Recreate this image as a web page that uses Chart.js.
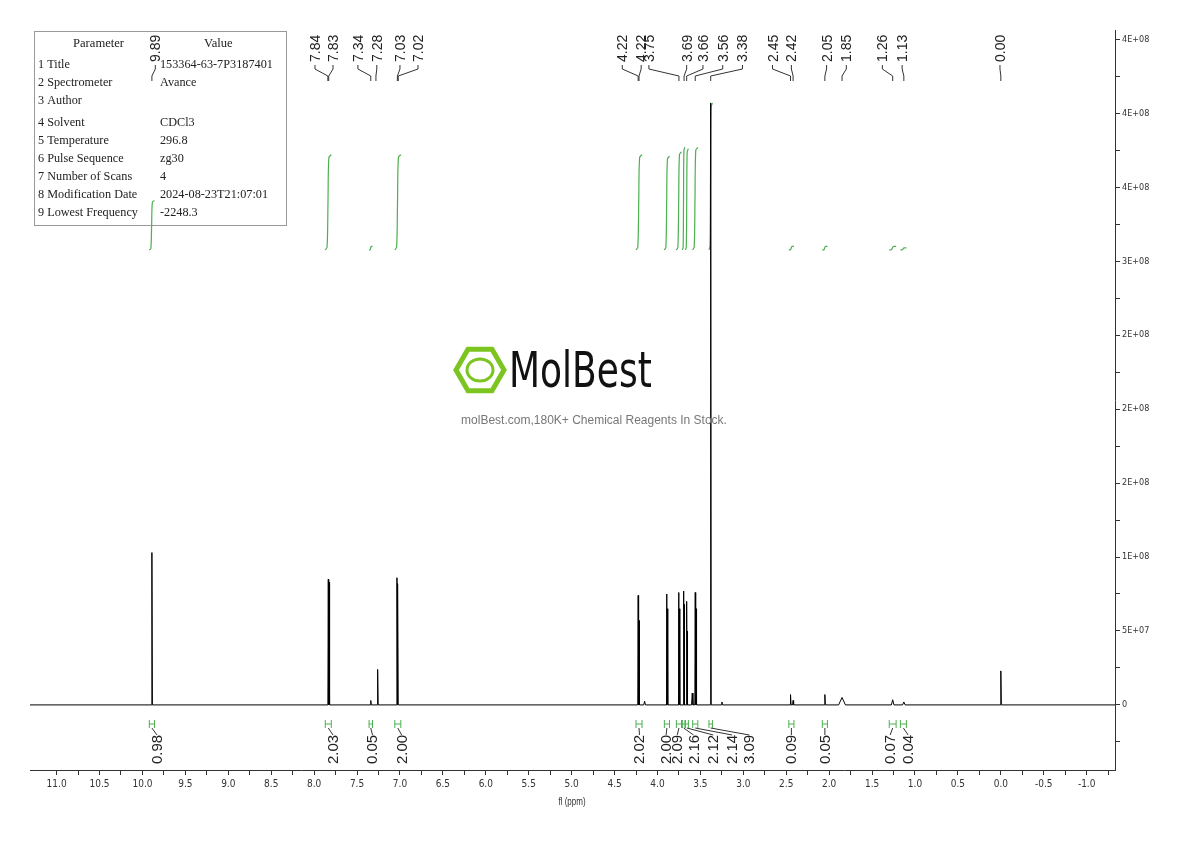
<!DOCTYPE html>
<html><head><meta charset="utf-8">
<script src="https://cdn.jsdelivr.net/npm/chart.js@4"></script>
<style>
html,body{margin:0;padding:0;background:#fff;}
</style></head><body>
<canvas id="c" width="1190" height="841"></canvas>
<script>
// ---- data ----
const peakPpm =    [9.89, 7.835, 7.825, 7.34, 7.26, 7.035, 7.025, 4.225, 4.215, 4.15, 3.895, 3.885, 3.755, 3.745, 3.695, 3.685, 3.66, 3.65, 3.595, 3.56, 3.55, 3.38, 3.25, 2.45, 2.42, 2.05, 1.85, 1.26, 1.13, 0.00];
const peakHeight = [1.03e8, 8.5e7, 8.3e7, 3e6, 2.4e7, 8.6e7, 8.2e7, 7.4e7, 5.7e7, 2.5e6, 7.5e7, 6.5e7, 7.6e7, 6.5e7, 7.7e7, 6.8e7, 7.0e7, 5.0e7, 8e6, 7.6e7, 6.5e7, 4.07e8, 2e6, 7e6, 3e6, 7e6, 5e6, 3.5e6, 2e6, 2.3e7];
const peakWidth =  [0.006,0.005,0.005,0.006,0.006,0.005,0.005,0.005,0.005,0.01,0.005,0.005,0.005,0.005,0.005,0.005,0.005,0.005,0.008,0.005,0.005,0.006,0.01,0.006,0.006,0.006,0.04,0.015,0.015,0.006];

const intLeft   = [9.92, 7.87, 7.36, 7.06, 4.25, 3.92, 3.78, 3.71, 3.675, 3.59, 3.40, 2.47, 2.08, 1.30, 1.17];
const intRight  = [9.86, 7.80, 7.32, 6.99, 4.18, 3.86, 3.72, 3.68, 3.64, 3.53, 3.36, 2.41, 2.02, 1.22, 1.10];
const intBase   = [3.076e8,3.076e8,3.076e8,3.076e8,3.076e8,3.076e8,3.076e8,3.076e8,3.076e8,3.076e8,3.076e8,3.076e8,3.076e8,3.076e8,3.076e8];
const intTop    = [3.41e8, 3.72e8, 3.10e8, 3.72e8, 3.72e8, 3.71e8, 3.74e8, 3.77e8, 3.76e8, 3.77e8, 4.07e8, 3.10e8, 3.10e8, 3.10e8, 3.09e8];
const intValue  = ['0.98','2.03','0.05','2.00','2.02','2.00','2.09','2.16','2.12','2.14','3.09','0.09','0.05','0.07','0.04'];
const intLabelPpm = [9.83, 7.78, 7.32, 6.98, 4.21, 3.90, 3.77, 3.58, 3.35, 3.13, 2.93, 2.44, 2.05, 1.29, 1.08];

const peakLabels   = ['9.89','7.84','7.83','7.34','7.28','7.03','7.02','4.22','4.22','3.75','3.69','3.66','3.56','3.38','2.45','2.42','2.05','1.85','1.26','1.13','0.00'];
const peakLabelPpm = [9.85, 7.99, 7.78, 7.49, 7.27, 7.00, 6.79, 4.41, 4.19, 4.10, 3.66, 3.47, 3.24, 3.01, 2.66, 2.44, 2.03, 1.80, 1.38, 1.15, 0.01];
const peakLabelTarget = [9.89, 7.84, 7.83, 7.34, 7.28, 7.03, 7.02, 4.225, 4.215, 3.75, 3.69, 3.66, 3.56, 3.38, 2.45, 2.42, 2.05, 1.85, 1.26, 1.13, 0.00];

const xTicks = [11.0,10.75,10.5,10.25,10.0,9.75,9.5,9.25,9.0,8.75,8.5,8.25,8.0,7.75,7.5,7.25,7.0,6.75,6.5,6.25,6.0,5.75,5.5,5.25,5.0,4.75,4.5,4.25,4.0,3.75,3.5,3.25,3.0,2.75,2.5,2.25,2.0,1.75,1.5,1.25,1.0,0.75,0.5,0.25,0.0,-0.25,-0.5,-0.75,-1.0,-1.25];
const yTicks = [-2.5e7,0,2.5e7,5e7,7.5e7,1e8,1.25e8,1.5e8,1.75e8,2e8,2.25e8,2.5e8,2.75e8,3e8,3.25e8,3.5e8,3.75e8,4e8,4.25e8,4.5e8];
const yTickLabels = {0:'0',5e7:'5E+07',1e8:'1E+08',1.5e8:'2E+08',2e8:'2E+08',2.5e8:'2E+08',3e8:'3E+08',3.5e8:'4E+08',4e8:'4E+08',4.5e8:'4E+08'};

const params = [['1 Title','153364-63-7P3187401'],['2 Spectrometer','Avance'],['3 Author',''],['4 Solvent','CDCl3'],['5 Temperature','296.8'],['6 Pulse Sequence','zg30'],['7 Number of Scans','4'],['8 Modification Date','2024-08-23T21:07:01'],['9 Lowest Frequency','-2248.3']];

// ---- build spectrum ----
const XMAX=11.31, XMIN=-1.33, YMIN=-4.4e7, YMAX=4.563e8;
const idx=peakPpm.map((p,i)=>i).sort((a,b)=>peakPpm[b]-peakPpm[a]);
const spec=[{x:XMAX,y:0}];
idx.forEach(i=>{spec.push({x:peakPpm[i]+peakWidth[i],y:0},{x:peakPpm[i],y:peakHeight[i]},{x:peakPpm[i]-peakWidth[i],y:0});});
spec.push({x:XMIN,y:0});
const datasets=[{data:spec,borderColor:'#000',borderWidth:1,pointRadius:0,tension:0}];
intLeft.forEach((l,i)=>{
  const r=intRight[i], b=intBase[i], t=intTop[i], d=(l-r);
  datasets.push({data:[{x:l,y:b},{x:l-d*0.3,y:b+(t-b)*0.03},{x:l-d*0.45,y:b+(t-b)*0.5},{x:l-d*0.6,y:t-(t-b)*0.03},{x:r,y:t}],
    borderColor:'#4caf50',borderWidth:1.2,pointRadius:0,tension:0.3});
});

function narrowText(c,t,x,y,sx){c.save();c.translate(x,y);c.scale(sx,1);c.fillText(t,0,0);c.restore();}

const under={id:'under',beforeDatasetsDraw(ch){
  const c=ch.ctx;c.save();
  c.fillStyle='#fff';c.fillRect(34,31,252,194);c.strokeStyle='#999';c.lineWidth=1;c.strokeRect(34.5,31.5,252,194);
  c.fillStyle='#222';c.font='12px "Liberation Serif","DejaVu Serif",serif';c.textBaseline='middle';c.textAlign='left';
  narrowText(c,'Parameter',73,44,1.05);narrowText(c,'Value',204,44,1.05);
  const rowsY=[65,83,101,123,141,159,177,195,213];
  params.forEach((p,i)=>{narrowText(c,p[0],38,rowsY[i],1.02);narrowText(c,p[1],160,rowsY[i],1.02);});
  c.restore();
}};

const overlay={id:'overlay',afterDatasetsDraw(ch){
  const c=ch.ctx,xs=ch.scales.x;
  c.save();
  c.font='14px "Liberation Sans",sans-serif';c.fillStyle='#222';c.strokeStyle='#333';c.lineWidth=1;
  peakLabels.forEach((t,i)=>{
    const lx=xs.getPixelForValue(peakLabelPpm[i]),px=xs.getPixelForValue(peakLabelTarget[i]);
    c.save();c.translate(lx+5,62);c.rotate(-Math.PI/2);c.textAlign='left';c.fillText(t,0,0);c.restore();
    c.beginPath();c.moveTo(lx,65);c.lineTo(lx,69);c.lineTo(px,76);c.lineTo(px,81);c.stroke();
  });
  c.font='15px "Liberation Sans",sans-serif';
  intLeft.forEach((l,i)=>{
    const a=xs.getPixelForValue(l),b=xs.getPixelForValue(intRight[i]),m=(a+b)/2,lx=xs.getPixelForValue(intLabelPpm[i]);
    c.strokeStyle='#4caf50';c.beginPath();c.moveTo(a,720);c.lineTo(a,728);c.moveTo(b,720);c.lineTo(b,728);c.moveTo(a,724);c.lineTo(b,724);c.stroke();
    c.strokeStyle='#333';c.beginPath();c.moveTo(m,728);c.lineTo(lx,735);c.stroke();
    c.fillStyle='#222';c.save();c.translate(lx+5,764);c.rotate(-Math.PI/2);c.textAlign='left';c.fillText(intValue[i],0,0);c.restore();
  });
  // watermark
  const cx=480,cy=370;c.strokeStyle='#7cc520';c.lineWidth=5;c.beginPath();
  for(let k=0;k<6;k++){const an=Math.PI/3*k;const X=cx+24*Math.cos(an),Y=cy+24*Math.sin(an);k?c.lineTo(X,Y):c.moveTo(X,Y);}c.closePath();c.stroke();
  c.lineWidth=3;c.beginPath();c.ellipse(cx,cy,13,11,0,0,Math.PI*2);c.stroke();
  c.fillStyle='#111';c.font='50px "DejaVu Sans",sans-serif';c.textAlign='left';c.textBaseline='middle';
  narrowText(c,'MolBest',509,374,0.72);
  c.fillStyle='#777';c.font='12px "Liberation Sans",sans-serif';c.textAlign='center';
  c.fillText('molBest.com,180K+ Chemical Reagents In Stock.',594,421);
  c.fillStyle='#333';c.font='10px "Liberation Sans",sans-serif';
  narrowText(c,'',0,0,1);
  c.save();c.translate(572,802);c.scale(0.8,1);c.fillText('fl (ppm)',0,0);c.restore();
  c.restore();
}};

new Chart(document.getElementById('c'),{type:'line',data:{datasets},
 options:{responsive:false,animation:false,events:[],
  layout:{padding:{left:30,top:30,right:0,bottom:0}},
  plugins:{legend:{display:false},tooltip:{enabled:false}},
  scales:{
   x:{type:'linear',reverse:true,min:XMIN,max:XMAX,
     afterBuildTicks:s=>{s.ticks=xTicks.map(v=>({value:v}));},
     afterFit:s=>{s.height=71;},
     grid:{display:true,drawOnChartArea:false,tickLength:5,color:'#333'},border:{color:'#333'},
     ticks:{autoSkip:false,maxRotation:0,color:'#333',font:{family:'"DejaVu Sans Condensed",sans-serif',size:10},
       callback:v=>(Math.abs(v*2-Math.round(v*2))<1e-6)?v.toFixed(1):''}},
   y:{type:'linear',position:'right',min:YMIN,max:YMAX,
     afterBuildTicks:s=>{s.ticks=yTicks.map(v=>({value:v}));},
     afterFit:s=>{s.width=75;},
     grid:{display:true,drawOnChartArea:false,tickLength:5,color:'#333'},border:{color:'#333'},
     ticks:{autoSkip:false,color:'#333',padding:2,font:{family:'"DejaVu Sans Condensed",sans-serif',size:9},
       callback:v=>yTickLabels[v]!==undefined?yTickLabels[v]:''}}
  }},plugins:[under,overlay]});
</script></body></html>
